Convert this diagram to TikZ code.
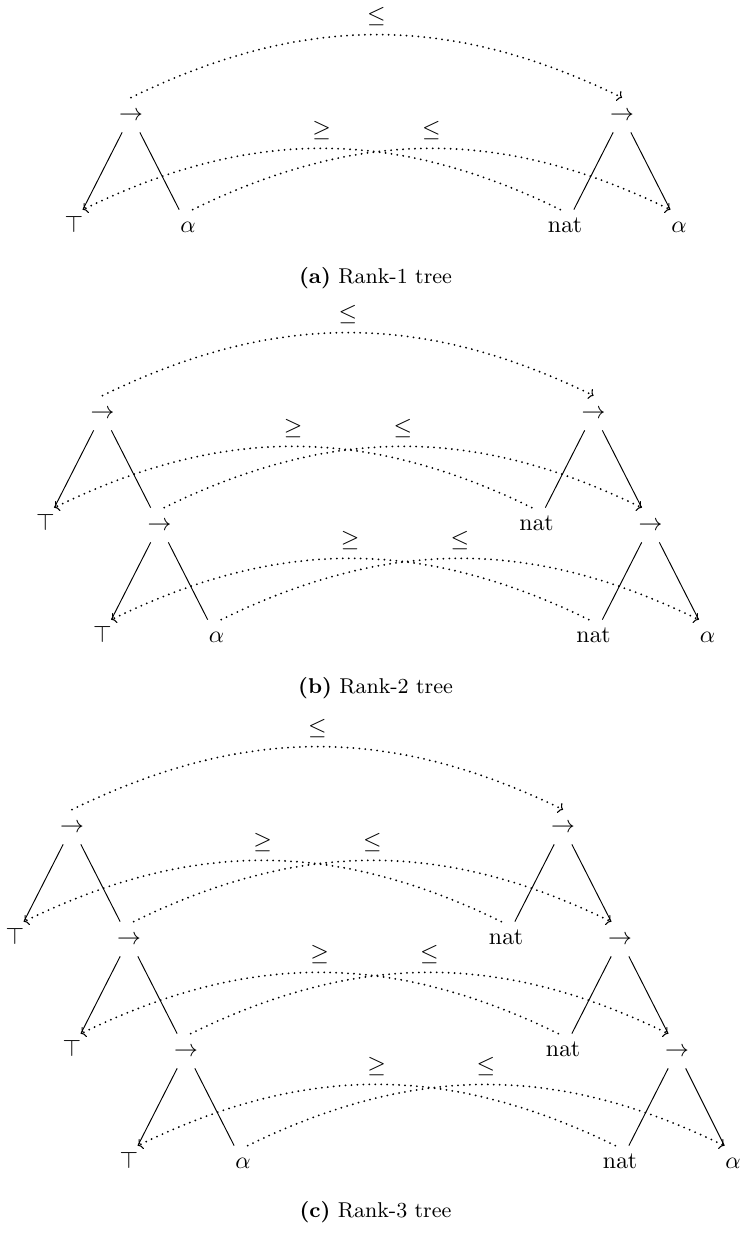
\documentclass[tikz,border=0pt]{standalone}
\usetikzlibrary{arrows.meta}
\begin{document}
\begin{tikzpicture}[x=0.42pt,y=-0.42pt,
  tn/.style={inner sep=3pt, text height=6.6pt, text depth=1.6pt},
  treeedge/.style={line width=0.4pt},
  rel/.style={line width=0.85pt, line cap=round, dash pattern=on 0pt off 2.5pt,
    -{To[length=1.8pt, width=4.6pt, line width=0.45pt]}},
  lab/.style={midway, above},
  captext/.style={font=\small}]
\useasboundingbox (0,0) rectangle (741,1233);
% ---------- (a) ----------
\node[tn] (a0) at (131,115) {$\to$};
\node[tn] (a1) at (74,227) {$\top$};
\node[tn] (a2) at (188,227) {$\alpha$};
\node[tn] (A0) at (622,115) {$\to$};
\node[tn] (A1) at (565,227) {$\mathrm{nat}$};
\node[tn] (A2) at (679,227) {$\alpha$};
\draw[treeedge] (a0) -- (a1); \draw[treeedge] (a0) -- (a2);
\draw[treeedge] (A0) -- (A1); \draw[treeedge] (A0) -- (A2);
\draw[rel] (a0.north) to[bend left=26] node[lab] {$\leq$} (A0.north);
\draw[rel] (A1.105) to[bend right=26] node[lab] {$\geq$} (a1.63);
\draw[rel] (a2.75) to[bend left=26] node[lab] {$\leq$} (A2.117);
\node[captext] (capa) at (375.5,278) {\textbf{(a)} Rank-1 tree};
% ---------- (b) ----------
\node[tn] (b0) at (102.5,413) {$\to$};
\node[tn] (b1) at (45.5,525) {$\top$};
\node[tn] (b2) at (159.5,525) {$\to$};
\node[tn] (b3) at (102.5,637) {$\top$};
\node[tn] (b4) at (216.5,637) {$\alpha$};
\node[tn] (B0) at (593.5,413) {$\to$};
\node[tn] (B1) at (536.5,525) {$\mathrm{nat}$};
\node[tn] (B2) at (650.5,525) {$\to$};
\node[tn] (B3) at (593.5,637) {$\mathrm{nat}$};
\node[tn] (B4) at (707.5,637) {$\alpha$};
\draw[treeedge] (b0) -- (b1); \draw[treeedge] (b0) -- (b2);
\draw[treeedge] (b2) -- (b3); \draw[treeedge] (b2) -- (b4);
\draw[treeedge] (B0) -- (B1); \draw[treeedge] (B0) -- (B2);
\draw[treeedge] (B2) -- (B3); \draw[treeedge] (B2) -- (B4);
\draw[rel] (b0.north) to[bend left=26] node[lab] {$\leq$} (B0.north);
\draw[rel] (B1.105) to[bend right=26] node[lab] {$\geq$} (b1.63);
\draw[rel] (b2.75) to[bend left=26] node[lab] {$\leq$} (B2.117);
\draw[rel] (B3.105) to[bend right=26] node[lab] {$\geq$} (b3.63);
\draw[rel] (b4.75) to[bend left=26] node[lab] {$\leq$} (B4.117);
\node[captext] (capb) at (375.5,688) {\textbf{(b)} Rank-2 tree};
% ---------- (c) ----------
\node[tn] (c0) at (72,827) {$\to$};
\node[tn] (c1) at (15,939) {$\top$};
\node[tn] (c2) at (129,939) {$\to$};
\node[tn] (c3) at (72,1051) {$\top$};
\node[tn] (c4) at (186,1051) {$\to$};
\node[tn] (c5) at (129,1163) {$\top$};
\node[tn] (c6) at (243,1163) {$\alpha$};
\node[tn] (C0) at (563,827) {$\to$};
\node[tn] (C1) at (506,939) {$\mathrm{nat}$};
\node[tn] (C2) at (620,939) {$\to$};
\node[tn] (C3) at (563,1051) {$\mathrm{nat}$};
\node[tn] (C4) at (677,1051) {$\to$};
\node[tn] (C5) at (620,1163) {$\mathrm{nat}$};
\node[tn] (C6) at (733,1163) {$\alpha$};
\draw[treeedge] (c0) -- (c1); \draw[treeedge] (c0) -- (c2);
\draw[treeedge] (c2) -- (c3); \draw[treeedge] (c2) -- (c4);
\draw[treeedge] (c4) -- (c5); \draw[treeedge] (c4) -- (c6);
\draw[treeedge] (C0) -- (C1); \draw[treeedge] (C0) -- (C2);
\draw[treeedge] (C2) -- (C3); \draw[treeedge] (C2) -- (C4);
\draw[treeedge] (C4) -- (C5); \draw[treeedge] (C4) -- (C6);
\draw[rel] (c0.north) to[bend left=26] node[lab] {$\leq$} (C0.north);
\draw[rel] (C1.105) to[bend right=26] node[lab] {$\geq$} (c1.63);
\draw[rel] (c2.75) to[bend left=26] node[lab] {$\leq$} (C2.117);
\draw[rel] (C3.105) to[bend right=26] node[lab] {$\geq$} (c3.63);
\draw[rel] (c4.75) to[bend left=26] node[lab] {$\leq$} (C4.117);
\draw[rel] (C5.105) to[bend right=26] node[lab] {$\geq$} (c5.63);
\draw[rel] (c6.75) to[bend left=26] node[lab] {$\leq$} (C6.117);
\node[captext] (capc) at (375.5,1212) {\textbf{(c)} Rank-3 tree};
\end{tikzpicture}
\end{document}
